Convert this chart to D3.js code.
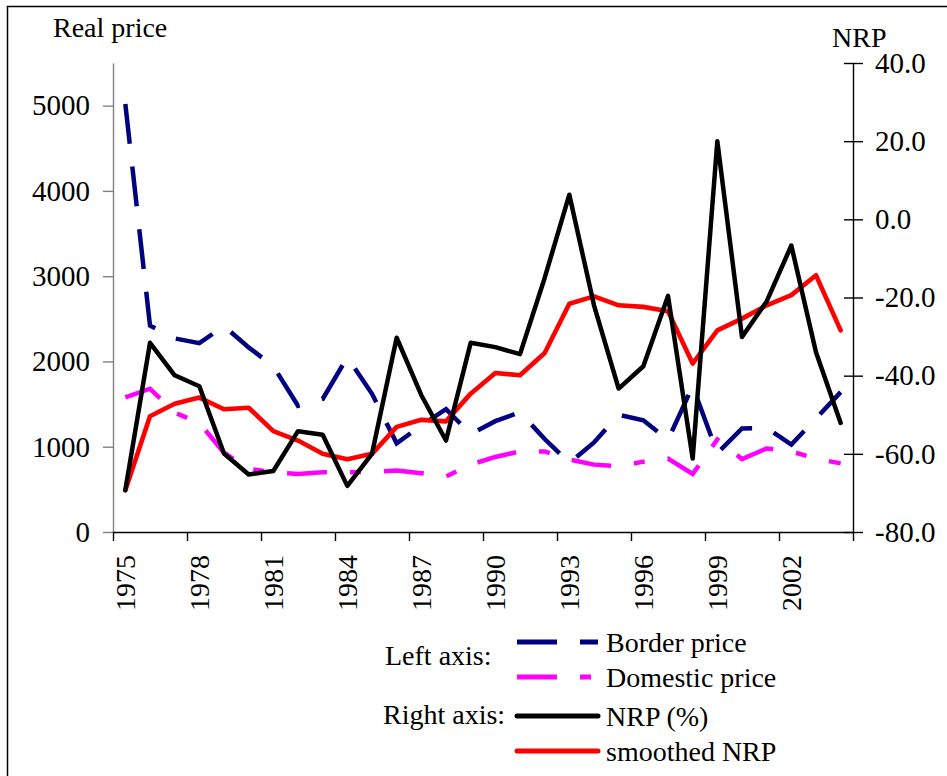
<!DOCTYPE html>
<html>
<head>
<meta charset="utf-8">
<script src="https://cdn.jsdelivr.net/npm/d3@7"></script>
<style>
  body { margin: 0; background: #fff; }
  text { font-family: "Liberation Serif", "Times New Roman", serif; fill: #000; }
</style>
</head>
<body>
<script>
// categories (one per year)
const years = [1975, 1976, 1977, 1978, 1979, 1980, 1981, 1982, 1983, 1984,
               1985, 1986, 1987, 1988, 1989, 1990, 1991, 1992, 1993, 1994,
               1995, 1996, 1997, 1998, 1999, 2000, 2001, 2002, 2003, 2004];
const labelYears = [1975, 1978, 1981, 1984, 1987, 1990, 1993, 1996, 1999, 2002];

// left axis series
const borderPrice = [5020, 2420, 2270, 2215, 2415, 2165, 1945, 1480, 1560, 2050,
                     1620, 1040, 1250, 1440, 1150, 1300, 1405, 1090, 810, 1050,
                     1375, 1310, 1080, 1710, 925, 1215, 1220, 1025, 1330, 1640];
const domesticPrice = [1580, 1680, 1400, 1280, 930, 740, 700, 680, 700, 700,
                       705, 720, 690, 650, 790, 880, 945, 945, 850, 790,
                       770, 825, 860, 680, 1085, 855, 980, 945, 860, 805];

// right axis series
const nrp = [-69.3, -31.6, -39.9, -42.7, -59.9, -65.3, -64.4, -54.2, -55.1, -68.2,
             -60.0, -30.3, -45.0, -56.6, -31.6, -32.7, -34.5, -15.0, 6.3, -22.0,
             -43.3, -37.6, -19.6, -61.2, 20.0, -30.1, -21.0, -6.7, -34.0, -52.1];
const smoothedNrp = [-69.3, -50.4, -47.2, -45.6, -48.6, -48.2, -54.2, -56.6, -60.0, -61.4,
                     -60.0, -53.1, -51.3, -51.7, -44.6, -39.3, -39.9, -34.2, -21.6, -19.7,
                     -22.0, -22.4, -23.5, -36.9, -28.4, -25.4, -22.0, -19.4, -14.3, -28.4];

const leftTicks = [0, 1000, 2000, 3000, 4000, 5000];
const rightTicks = [-80, -60, -40, -20, 0, 20, 40];
const boundaryTicks = [0, 3, 6, 9, 12, 15, 18, 21, 24, 27, 30];

let width = 947, height = 776;
let svg = d3.select("body").append("svg").attr("width", width).attr("height", height);

let plotLeft = 113, plotRight = 853, plotTop = 63, plotBottom = 532;

let xBand = d3.scaleBand().domain(years).range([plotLeft, plotRight]).padding(0);
let xIdx = d3.scaleLinear().domain([0, years.length]).range([plotLeft, plotRight]);
let yL = d3.scaleLinear().domain([0, 5500]).range([plotBottom, plotTop]);
let yR = d3.scaleLinear().domain([-80, 40]).range([plotBottom, plotTop]);
let cx = y => xBand(y) + xBand.bandwidth() / 2;

// outer frame
svg.append("rect")
    .attr("x", 7.5).attr("y", 6.5)
    .attr("width", 1000).attr("height", 1000)
    .attr("fill", "none").attr("stroke", "#000").attr("stroke-width", 1.5);

// left axis
let gl = svg.append("g").attr("transform", "translate(" + plotLeft + ",0)")
    .call(d3.axisLeft(yL).tickValues(leftTicks).tickSize(10).tickPadding(13).tickSizeOuter(0)
        .tickFormat(d3.format("d")));
gl.select(".domain").attr("stroke", "#808080").attr("stroke-width", 1.4);
gl.selectAll(".tick line").attr("stroke", "#808080").attr("stroke-width", 1.4);
gl.selectAll("text").style("font-size", "29px").attr("font-family", null);

// bottom axis tick marks
let gb = svg.append("g").attr("transform", "translate(0," + plotBottom + ")")
    .call(d3.axisBottom(xIdx).tickValues(boundaryTicks).tickSize(9).tickSizeOuter(0).tickFormat(""));
gb.select(".domain").attr("stroke", "#000").attr("stroke-width", 1.4);
gb.selectAll(".tick line").attr("stroke", "#000").attr("stroke-width", 1.4);

// bottom axis year labels
let gy = svg.append("g").attr("transform", "translate(0," + plotBottom + ")")
    .call(d3.axisBottom(xBand).tickValues(labelYears).tickSize(0).tickPadding(0));
gy.select(".domain").remove();
gy.selectAll("text")
    .attr("font-family", null)
    .style("font-size", "28px")
    .attr("text-anchor", "end")
    .attr("transform", "rotate(-90)")
    .attr("x", -23).attr("y", 0).attr("dy", "0.35em");

// right axis
let gr = svg.append("g").attr("transform", "translate(" + plotRight + ",0)")
    .call(d3.axisRight(yR).tickValues(rightTicks).tickSize(10).tickPadding(12).tickSizeOuter(0)
        .tickFormat(d => d.toFixed(1)));
gr.select(".domain").attr("stroke", "#000").attr("stroke-width", 1.4);
gr.selectAll(".tick line").attr("x1", -9).attr("stroke", "#000").attr("stroke-width", 1.4);
gr.selectAll("text").style("font-size", "29px").attr("font-family", null);

// axis titles
svg.append("text").attr("x", 53).attr("y", 37).style("font-size", "28px").text("Real price");
svg.append("text").attr("x", 832).attr("y", 47).style("font-size", "28px").text("NRP");

// series
let lineL = d3.line().x((d, i) => cx(years[i])).y(d => yL(d));
let lineR = d3.line().x((d, i) => cx(years[i])).y(d => yR(d));

svg.append("path").datum(domesticPrice).attr("d", lineL)
    .attr("fill", "none").attr("stroke", "#FF00FF").attr("stroke-width", 4.5)
    .attr("stroke-dasharray", "40,23,11,23");
svg.append("path").datum(borderPrice).attr("d", lineL)
    .attr("fill", "none").attr("stroke", "#000080").attr("stroke-width", 4.5)
    .attr("stroke-dasharray", "40,23");
svg.append("path").datum(smoothedNrp).attr("d", lineR)
    .attr("fill", "none").attr("stroke", "#FF0000").attr("stroke-width", 4.6)
    .attr("stroke-linejoin", "round").attr("stroke-linecap", "round");
svg.append("path").datum(nrp).attr("d", lineR)
    .attr("fill", "none").attr("stroke", "#000").attr("stroke-width", 4.5)
    .attr("stroke-linejoin", "round").attr("stroke-linecap", "round");

// legend
let lg = svg.append("g");
lg.append("text").attr("x", 385).attr("y", 665).style("font-size", "28px").text("Left axis:");
lg.append("text").attr("x", 383).attr("y", 724).style("font-size", "28px").text("Right axis:");

let legendItems = [
    { name: "Border price", color: "#000080", dash: "40,23", y: 642, cap: "butt" },
    { name: "Domestic price", color: "#FF00FF", dash: "40,23,11,23", y: 677, cap: "butt" },
    { name: "NRP (%)", color: "#000", dash: null, y: 716, cap: "round" },
    { name: "smoothed NRP", color: "#FF0000", dash: null, y: 751, cap: "round" }
];
legendItems.forEach(it => {
    lg.append("line")
        .attr("x1", 517).attr("x2", 598).attr("y1", it.y).attr("y2", it.y)
        .attr("stroke", it.color).attr("stroke-width", 5)
        .attr("stroke-linecap", it.cap)
        .attr("stroke-dasharray", it.dash);
    lg.append("text").attr("x", 606).attr("y", it.y + 10)
        .style("font-size", "28px").text(it.name);
});
</script>
</body>
</html>
